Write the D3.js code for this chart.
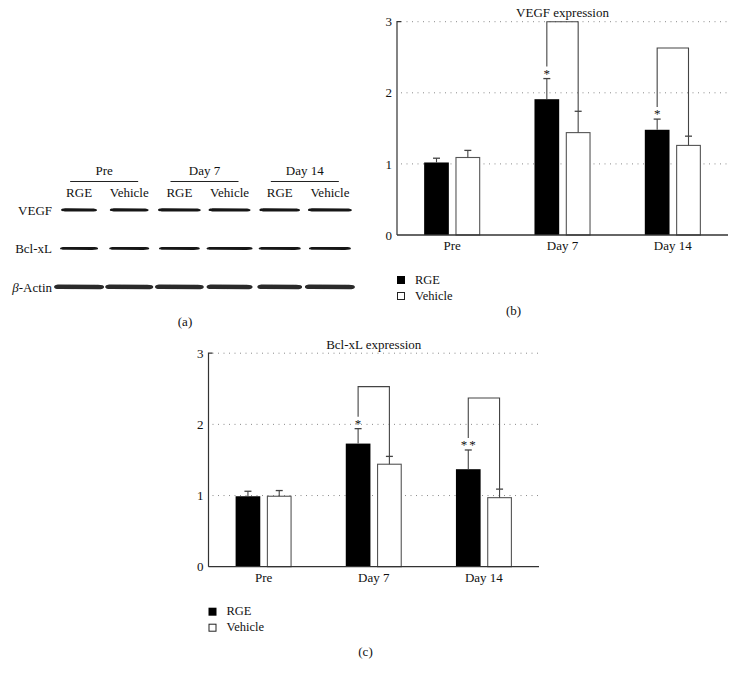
<!DOCTYPE html>
<html><head><meta charset="utf-8">
<script src="https://cdn.jsdelivr.net/npm/d3@7"></script>
<style>
body{margin:0;background:#fff;}
svg{display:block;}
text{font-family:"Liberation Serif","Times New Roman","DejaVu Serif",serif;fill:#111;}
</style></head>
<body><svg id="fig" width="736" height="678"></svg>
<script>
// ---------- data ----------
const categories = ["Pre", "Day 7", "Day 14"];
const seriesNames = ["RGE", "Vehicle"];
const yTicks = [0, 1, 2, 3];

const vegfRGE = [1.02, 1.91, 1.48];
const vegfRGEErr = [0.06, 0.29, 0.15];
const vegfVehicle = [1.09, 1.44, 1.26];
const vegfVehicleErr = [0.10, 0.30, 0.13];
const vegfBracketTop = [null, 3.0, 2.63];
const vegfSig = ["", "*", "*"];

const bclRGE = [0.99, 1.73, 1.37];
const bclRGEErr = [0.07, 0.21, 0.27];
const bclVehicle = [0.99, 1.44, 0.97];
const bclVehicleErr = [0.08, 0.11, 0.12];
const bclBracketTop = [null, 2.53, 2.37];
const bclSig = ["", "*", "**"];

const blotGroups = ["Pre", "Day 7", "Day 14"];
const blotLanes = ["RGE", "Vehicle", "RGE", "Vehicle", "RGE", "Vehicle"];
const blotRows = ["VEGF", "Bcl-xL", "Actin"];
const vegfBand = [0.90, 0.97, 1.07, 1.05, 1.02, 1.10];
const bclBand = [0.95, 1.00, 1.02, 1.15, 1.05, 1.05];
const actinBand = [1.25, 1.20, 1.22, 1.15, 1.12, 1.25];

// ---------- drawing ----------
const svg = d3.select("#fig");

const defs = svg.append("defs");
defs.append("filter").attr("id", "blur").attr("x", "-10%").attr("y", "-80%").attr("width", "120%").attr("height", "260%")
  .append("feGaussianBlur").attr("stdDeviation", 0.6);

// ---- panel (a): western blot ----
(function () {
  const g = svg.append("g");
  const lane = d3.scaleBand().domain(d3.range(blotLanes.length)).range([54, 355]);
  const widthScale = d3.scaleLinear().domain([0, 1]).range([0, 40]);
  const rowY = d3.scalePoint().domain(blotRows).range([210, 287]);

  blotGroups.forEach((grp, i) => {
    const cx = (lane(2 * i) + lane(2 * i + 1) + lane.bandwidth()) / 2;
    g.append("text").attr("x", cx).attr("y", 175).attr("text-anchor", "middle")
      .attr("font-size", 13).text(grp);
    g.append("line").attr("x1", cx - 34).attr("x2", cx + 34).attr("y1", 181.5).attr("y2", 181.5)
      .attr("stroke", "#222").attr("stroke-width", 1);
  });
  blotLanes.forEach((l, i) => {
    g.append("text").attr("x", lane(i) + lane.bandwidth() / 2).attr("y", 197)
      .attr("text-anchor", "middle").attr("font-size", 13).text(l);
  });

  g.append("text").attr("x", 52).attr("y", rowY("VEGF") + 4.5).attr("text-anchor", "end")
    .attr("font-size", 13).text("VEGF");
  g.append("text").attr("x", 52).attr("y", rowY("Bcl-xL") + 4.5).attr("text-anchor", "end")
    .attr("font-size", 13).text("Bcl-xL");
  const act = g.append("text").attr("x", 52).attr("y", rowY("Actin") + 4.5).attr("text-anchor", "end")
    .attr("font-size", 13);
  act.append("tspan").attr("font-style", "italic").text("β");
  act.append("tspan").text("-Actin");

  const rows = [[vegfBand, "VEGF", 3.2, "#151515"], [bclBand, "Bcl-xL", 2.9, "#181818"], [actinBand, "Actin", 4.6, "#2a2a2a"]];
  rows.forEach(([vals, name, h, col]) => {
    vals.forEach((v, i) => {
      const cx = lane(i) + lane.bandwidth() / 2;
      const w = widthScale(v);
      const y = rowY(name);
      const path = `M${cx - w / 2},${y}
        C${cx - w / 2},${y - h * 0.5} ${cx - w / 2 + 3},${y - h * 0.55} ${cx - w / 2 + 6},${y - h * 0.55}
        L${cx + w / 2 - 6},${y - h * 0.5}
        C${cx + w / 2 - 2},${y - h * 0.5} ${cx + w / 2},${y - h * 0.35} ${cx + w / 2},${y}
        C${cx + w / 2},${y + h * 0.35} ${cx + w / 2 - 2},${y + h * 0.5} ${cx + w / 2 - 6},${y + h * 0.5}
        L${cx - w / 2 + 6},${y + h * 0.45}
        C${cx - w / 2 + 3},${y + h * 0.45} ${cx - w / 2},${y + h * 0.4} ${cx - w / 2},${y} Z`;
      g.append("path").attr("d", path).attr("fill", col).attr("filter", "url(#blur)");
    });
  });

  g.append("text").attr("x", 185).attr("y", 326).attr("text-anchor", "middle")
    .attr("font-size", 13).text("(a)");
})();

// ---- bar chart panels ----
function barChart(o) {
  const g = svg.append("g");
  const x = d3.scaleBand().domain(categories).range([o.x0, o.x1]).paddingInner(0).paddingOuter(0);
  const y = d3.scaleLinear().domain([0, 3]).range([o.yBottom, o.yTop]);
  const step = x.step();
  const barW = step * 0.224;
  const gap = step * 0.06;

  g.selectAll(".grid").data(yTicks.filter(t => t > 0)).join("line")
    .attr("x1", o.x0 + 4).attr("x2", o.x1).attr("y1", d => y(d)).attr("y2", d => y(d))
    .attr("stroke", "#8a8a8a").attr("stroke-width", 1).attr("stroke-dasharray", "1,4.5");

  g.append("text").attr("x", (o.x0 + o.x1) / 2).attr("y", o.yTop - 4.7).attr("text-anchor", "middle")
    .attr("font-size", 13).text(o.title);

  const yAxis = d3.axisLeft(y).tickValues(yTicks).tickSize(0).tickPadding(5).tickFormat(d3.format("d"));
  const ya = g.append("g").attr("transform", `translate(${o.x0},0)`).call(yAxis);
  ya.select(".domain").remove();
  ya.attr("font-family", null);
  ya.selectAll("text").attr("font-size", 13).attr("fill", "#111");
  g.append("path").attr("d", `M${o.x0 + 4},${y(3)}H${o.x0}V${y(0)}`)
    .attr("fill", "none").attr("stroke", "#333").attr("stroke-width", 1.2);

  const rgeX = c => x(c) + step / 2 - gap / 2 - barW;
  const vehX = c => x(c) + step / 2 + gap / 2;
  categories.forEach((c, i) => {
    g.append("rect").attr("x", rgeX(c)).attr("width", barW)
      .attr("y", y(o.rge[i])).attr("height", y(0) - y(o.rge[i])).attr("fill", "#000");
    g.append("rect").attr("x", vehX(c) + 0.5).attr("width", barW - 1)
      .attr("y", y(o.veh[i])).attr("height", y(0) - y(o.veh[i]))
      .attr("fill", "#fff").attr("stroke", "#555").attr("stroke-width", 1.1);
  });

  function err(cx, v, e) {
    g.append("line").attr("x1", cx).attr("x2", cx).attr("y1", y(v)).attr("y2", y(v + e))
      .attr("stroke", "#444").attr("stroke-width", 1.1);
    g.append("line").attr("x1", cx - 3.5).attr("x2", cx + 3.5).attr("y1", y(v + e)).attr("y2", y(v + e))
      .attr("stroke", "#444").attr("stroke-width", 1.3);
  }
  categories.forEach((c, i) => {
    err(rgeX(c) + barW / 2, o.rge[i], o.rgeErr[i]);
    err(vehX(c) + barW / 2, o.veh[i], o.vehErr[i]);
  });

  categories.forEach((c, i) => {
    if (o.bracket[i] == null) return;
    const lx = rgeX(c) + barW / 2, rx = vehX(c) + barW / 2;
    const lTop = y(o.rge[i] + o.rgeErr[i]);
    const rTop = y(o.veh[i] + o.vehErr[i]);
    const top = y(o.bracket[i]);
    g.append("path").attr("d", `M${lx},${lTop - 12}V${top}H${rx}V${rTop}`)
      .attr("fill", "none").attr("stroke", "#444").attr("stroke-width", 1.1);
    g.append("text").attr("x", lx + (o.sig[i].length > 1 ? 1 : 0)).attr("y", lTop - 1)
      .attr("text-anchor", "middle").attr("font-size", 13)
      .attr("letter-spacing", o.sig[i].length > 1 ? 2 : 0).text(o.sig[i]);
  });

  g.append("line").attr("x1", o.x0).attr("x2", o.x1).attr("y1", y(0)).attr("y2", y(0))
    .attr("stroke", "#333").attr("stroke-width", 1.3);
  categories.forEach(c => {
    g.append("text").attr("x", x(c) + step / 2).attr("y", y(0) + 15).attr("text-anchor", "middle")
      .attr("font-size", 13).text(c);
  });

  seriesNames.forEach((s, i) => {
    const ly = y(0) + 41 + i * 16;
    g.append("rect").attr("x", o.x0 + (i ? 0.5 : 0)).attr("y", ly + (i ? 0.5 : 0))
      .attr("width", i ? 7 : 8).attr("height", i ? 7 : 8)
      .attr("fill", i ? "#fff" : "#000").attr("stroke", i ? "#222" : "none").attr("stroke-width", 1);
    g.append("text").attr("x", o.x0 + 18).attr("y", ly + 7.5).attr("font-size", 12.5).text(s);
  });

  g.append("text").attr("x", o.panelX).attr("y", o.panelY).attr("text-anchor", "middle")
    .attr("font-size", 13).text(o.panel);
}

barChart({
  x0: 397, x1: 728, yBottom: 235, yTop: 21.7, title: "VEGF expression",
  rge: vegfRGE, rgeErr: vegfRGEErr, veh: vegfVehicle, vehErr: vegfVehicleErr,
  bracket: vegfBracketTop, sig: vegfSig, panel: "(b)", panelX: 513.5, panelY: 314.5
});
barChart({
  x0: 208.5, x1: 539, yBottom: 566.7, yTop: 353.2, title: "Bcl-xL expression",
  rge: bclRGE, rgeErr: bclRGEErr, veh: bclVehicle, vehErr: bclVehicleErr,
  bracket: bclBracketTop, sig: bclSig, panel: "(c)", panelX: 365.5, panelY: 656
});
</script></body></html>
